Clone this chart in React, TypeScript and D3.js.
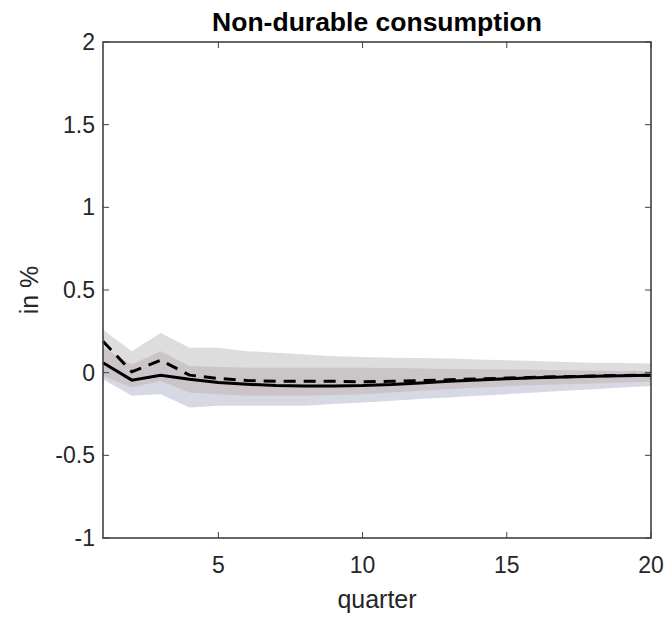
import React, { useEffect, useRef } from "react";
import * as d3 from "d3";

// quarters 1..20
const quarters = d3.range(1, 21);

// solid line (point estimate, model A)
const solid = [0.06, -0.045, -0.015, -0.04, -0.06, -0.07, -0.078, -0.08, -0.08, -0.078,
  -0.072, -0.062, -0.052, -0.044, -0.037, -0.031, -0.026, -0.022, -0.018, -0.015];

// dashed line (point estimate, model B)
const dashed = [0.19, 0.005, 0.075, -0.015, -0.035, -0.048, -0.052, -0.052, -0.052, -0.055,
  -0.052, -0.048, -0.043, -0.038, -0.033, -0.028, -0.024, -0.02, -0.017, -0.015];

// dashed-line band (grey)
const dashedUpper = [0.26, 0.13, 0.24, 0.15, 0.15, 0.13, 0.12, 0.11, 0.1, 0.095,
  0.09, 0.088, 0.085, 0.08, 0.075, 0.07, 0.065, 0.06, 0.058, 0.055];
const dashedLower = [-0.02, -0.09, -0.05, -0.12, -0.13, -0.14, -0.14, -0.14, -0.135, -0.13,
  -0.12, -0.11, -0.1, -0.09, -0.082, -0.075, -0.07, -0.065, -0.06, -0.055];

// solid-line band (bluish)
const solidUpper = [0.15, 0.05, 0.13, 0.04, 0.035, 0.03, 0.03, 0.03, 0.03, 0.03,
  0.028, 0.025, 0.022, 0.02, 0.02, 0.017, 0.015, 0.012, 0.01, 0.01];
const solidLower = [-0.04, -0.14, -0.13, -0.21, -0.2, -0.2, -0.2, -0.2, -0.19, -0.18,
  -0.17, -0.16, -0.15, -0.14, -0.13, -0.12, -0.11, -0.1, -0.09, -0.08];

const xTicks = [5, 10, 15, 20];
const yTicks = [-1, -0.5, 0, 0.5, 1, 1.5, 2];

const FONT = "Liberation Sans, Arial, sans-serif";

const App = () => {
  const svgRef = useRef<SVGSVGElement>(null);

  useEffect(() => {
    const svg = d3.select(svgRef.current);
    svg.selectAll("*").remove();

    const margin = { top: 42, right: 17, bottom: 83, left: 103 };
    const W = 668;
    const H = 621;
    const width = W - margin.left - margin.right;
    const height = H - margin.top - margin.bottom;

    const x = d3.scaleLinear().domain([1, 20]).range([0, width]);
    const y = d3.scaleLinear().domain([-1, 2]).range([height, 0]);

    const g = svg.append("g").attr("transform", `translate(${margin.left},${margin.top})`);

    const area = (lo: number[], hi: number[]) =>
      d3.area<number>()
        .x((d) => x(d))
        .y0((d, i) => y(lo[i]))
        .y1((d, i) => y(hi[i]))(quarters);

    // bands
    g.append("path").attr("d", area(dashedLower, dashedUpper)).attr("fill", "#dddddd");
    g.append("path").attr("d", area(solidLower, solidUpper)).attr("fill", "#d6d8e4");
    // overlap of the two bands
    const ovLo = quarters.map((d, i) => Math.max(dashedLower[i], solidLower[i]));
    const ovHi = quarters.map((d, i) => Math.min(dashedUpper[i], solidUpper[i]));
    g.append("path").attr("d", area(ovLo, ovHi)).attr("fill", "#cbc5c9");

    const line = (vals: number[]) =>
      d3.line<number>().x((d) => x(d)).y((d, i) => y(vals[i]))(quarters);

    g.append("path")
      .attr("d", line(dashed))
      .attr("fill", "none")
      .attr("stroke", "#000")
      .attr("stroke-width", 3)
      .attr("stroke-dasharray", "12,8");

    g.append("path")
      .attr("d", line(solid))
      .attr("fill", "none")
      .attr("stroke", "#000")
      .attr("stroke-width", 3);

    // box
    const axisColor = "#404040";
    g.append("rect")
      .attr("x", 0).attr("y", 0)
      .attr("width", width).attr("height", height)
      .attr("fill", "none")
      .attr("stroke", axisColor)
      .attr("stroke-width", 1.6);

    // x ticks (inward, top and bottom)
    xTicks.forEach((t) => {
      g.append("line").attr("x1", x(t)).attr("x2", x(t)).attr("y1", height).attr("y2", height - 6)
        .attr("stroke", axisColor).attr("stroke-width", 1);
      g.append("line").attr("x1", x(t)).attr("x2", x(t)).attr("y1", 0).attr("y2", 6)
        .attr("stroke", axisColor).attr("stroke-width", 1);
      g.append("text")
        .attr("x", x(t)).attr("y", height + 35)
        .attr("text-anchor", "middle")
        .attr("font-family", FONT)
        .attr("font-size", 23)
        .attr("fill", "#262626")
        .text(t);
    });

    yTicks.forEach((t) => {
      g.append("line").attr("x1", 0).attr("x2", 6).attr("y1", y(t)).attr("y2", y(t))
        .attr("stroke", axisColor).attr("stroke-width", 1);
      g.append("line").attr("x1", width).attr("x2", width - 6).attr("y1", y(t)).attr("y2", y(t))
        .attr("stroke", axisColor).attr("stroke-width", 1);
      g.append("text")
        .attr("x", -8).attr("y", y(t))
        .attr("dy", "0.35em")
        .attr("text-anchor", "end")
        .attr("font-family", FONT)
        .attr("font-size", 23)
        .attr("fill", "#262626")
        .text(t);
    });

    // labels
    svg.append("text")
      .attr("x", margin.left + width / 2).attr("y", 31)
      .attr("text-anchor", "middle")
      .attr("font-family", FONT)
      .attr("font-size", 26.5)
      .attr("font-weight", "bold")
      .attr("fill", "#000")
      .text("Non-durable consumption");

    svg.append("text")
      .attr("x", margin.left + width / 2).attr("y", 608)
      .attr("text-anchor", "middle")
      .attr("font-family", FONT)
      .attr("font-size", 25)
      .attr("fill", "#262626")
      .text("quarter");

    svg.append("text")
      .attr("transform", `translate(38,${margin.top + height / 2}) rotate(-90)`)
      .attr("text-anchor", "middle")
      .attr("font-family", FONT)
      .attr("font-size", 25)
      .attr("fill", "#262626")
      .text("in %");
  }, []);

  return (
    <svg
      ref={svgRef}
      width={668}
      height={621}
      style={{ position: "absolute", left: 0, top: 0, background: "#fff" }}
    ></svg>
  );
};

export default App;
